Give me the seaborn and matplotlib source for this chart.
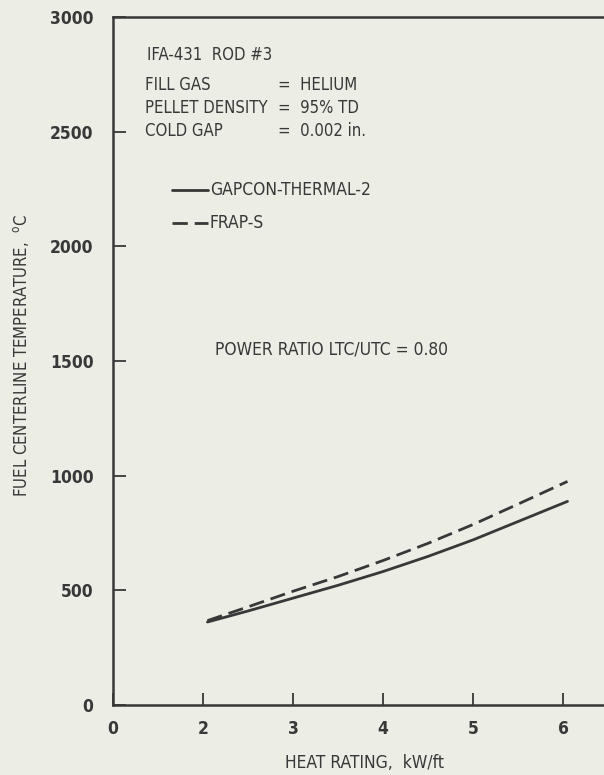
import numpy as np
import pandas as pd
import matplotlib
matplotlib.use('Agg')
import matplotlib.pyplot as plt
import seaborn as sns

# values
heat_rating = [2.05, 2.5, 3.0, 3.5, 4.0, 4.5, 5.0, 5.5, 6.05]
gapcon_temp = [362, 410, 466, 522, 582, 648, 720, 800, 888]
frap_temp = [368, 428, 496, 560, 630, 705, 787, 876, 975]

x_ticks = [1, 2, 3, 4, 5, 6]
x_tick_labels = ['0', '2', '3', '4', '5', '6']
y_ticks = [0, 500, 1000, 1500, 2000, 2500, 3000]

paper = '#ecede5'
ink = '#383838'

sns.set_style('ticks')
plt.rcParams['font.family'] = ['Liberation Sans Narrow', 'DejaVu Sans']
plt.rcParams['font.stretch'] = 'condensed'

df = pd.DataFrame({
    'heat': heat_rating + heat_rating,
    'temp': gapcon_temp + frap_temp,
    'code': ['GAPCON-THERMAL-2'] * len(heat_rating) + ['FRAP-S'] * len(heat_rating),
})

fig = plt.figure(figsize=(6.04, 7.75), dpi=100)
fig.patch.set_facecolor(paper)
ax = fig.add_axes([0.187, 0.0903, 0.813, 0.8877])
ax.set_facecolor(paper)

sns.lineplot(data=df, x='heat', y='temp', style='code',
             dashes={'GAPCON-THERMAL-2': '', 'FRAP-S': (5.5, 2.5)},
             color=ink, linewidth=2.0, legend=False, ax=ax)

ax.set_xlim(1, 1 + (604 - 113) / 90)
ax.set_ylim(0, 3000)
ax.set_xticks(x_ticks)
ax.set_xticklabels(x_tick_labels)
ax.set_yticks(y_ticks)
ax.tick_params(direction='in', length=9, width=1.3, color=ink,
               labelcolor=ink, labelsize=12.5)
ax.tick_params(axis='x', pad=11)
ax.tick_params(axis='y', pad=14)
for lab in ax.get_xticklabels() + ax.get_yticklabels():
    lab.set_fontweight('bold')

for s in ['top', 'left', 'bottom']:
    ax.spines[s].set_color(ink)
    ax.spines[s].set_linewidth(1.8)
ax.spines['right'].set_visible(False)

ax.set_xlabel('HEAT RATING,  kW/ft', fontsize=12.5, color=ink)
ax.set_ylabel(r'FUEL CENTERLINE TEMPERATURE,  $^{\rm o}$C', fontsize=12,
              color=ink)
ax.xaxis.set_label_coords((365 - 113) / 491, -0.071)
ax.yaxis.set_label_coords((31 - 113) / 491, (705 - 355) / 688)


def px(xp, yp):
    return ((xp - 113) / 491, (705 - yp) / 688)


# annotation block in the upper left
tx = dict(color=ink, fontsize=12, transform=ax.transAxes, va='center')
ax.text(*px(147, 55), 'IFA-431  ROD #3', **tx)
ax.text(*px(145, 85), 'FILL GAS', **tx)
ax.text(*px(145, 108), 'PELLET DENSITY', **tx)
ax.text(*px(145, 131), 'COLD GAP', **tx)
ax.text(*px(278, 85), '=  HELIUM', **tx)
ax.text(*px(278, 108), '=  95% TD', **tx)
ax.text(*px(278, 131), '=  0.002 in.', **tx)

lx0, lx1 = px(172, 0)[0], px(208, 0)[0]
ax.plot([lx0, lx1], [px(0, 190)[1]] * 2, color=ink, lw=2.0,
        transform=ax.transAxes)
ax.plot([lx0, lx1], [px(0, 223)[1]] * 2, color=ink, lw=2.0,
        dashes=(5.5, 2.5), transform=ax.transAxes)
ax.text(*px(210, 190), 'GAPCON-THERMAL-2', fontsize=12.5,
        color=ink, transform=ax.transAxes, va='center')
ax.text(*px(210, 223), 'FRAP-S', fontsize=12.5,
        color=ink, transform=ax.transAxes, va='center')

ax.text(*px(215, 349), 'POWER RATIO LTC/UTC = 0.80', fontsize=12.5,
        color=ink, transform=ax.transAxes, va='center')

fig.savefig('out.png', dpi=100, facecolor=paper)
